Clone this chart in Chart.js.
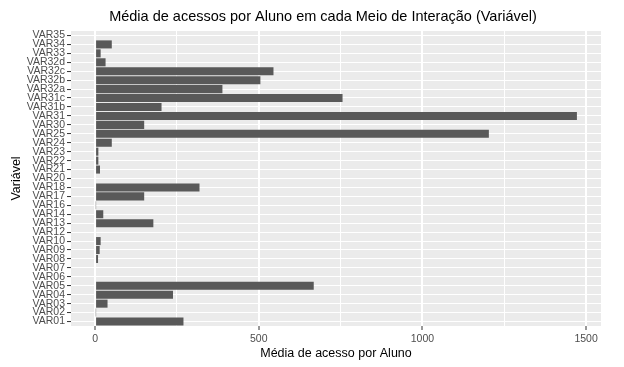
<!DOCTYPE html>
<html>
<head>
<meta charset="utf-8">
<script src="https://cdn.jsdelivr.net/npm/chart.js@4"></script>
<style>
html,body{margin:0;padding:0;background:#fff;}
#wrap{width:624px;height:367px;position:relative;}
</style>
</head>
<body>
<div id="wrap"><canvas id="c" width="624" height="367"></canvas></div>
<script>
// Categories, bottom to top
const categories = ["VAR01","VAR02","VAR03","VAR04","VAR05","VAR06","VAR07","VAR08","VAR09","VAR10",
  "VAR12","VAR13","VAR14","VAR16","VAR17","VAR18","VAR20","VAR21","VAR22","VAR23","VAR24","VAR25",
  "VAR30","VAR31","VAR31b","VAR31c","VAR32a","VAR32b","VAR32c","VAR32d","VAR33","VAR34","VAR35"];
// Mean accesses per student
const meanAccess = [270, 2, 38, 238, 668, 0, 0, 9, 14, 17,
  3, 178, 25, 2, 150, 319, 0, 15, 10, 10, 51, 1203,
  150, 1472, 203, 756, 389, 505, 545, 32, 17, 51, 0];
const xTickValues = [0, 250, 500, 750, 1000, 1250, 1500];
const xLabelValues = [0, 500, 1000, 1500];

const titleText = "Média de acessos por Aluno em cada Meio de Interação (Variável)";
const xTitle = "Média de acesso por Aluno";
const yTitle = "Variável";

const panelBg = {
  id: 'panelBg',
  beforeDraw(chart) {
    const a = chart.chartArea, ctx = chart.ctx;
    ctx.save();
    ctx.fillStyle = '#EBEBEB';
    ctx.fillRect(a.left, a.top, a.right - a.left, a.bottom - a.top);
    ctx.restore();
  }
};

new Chart(document.getElementById('c'), {
  type: 'bar',
  data: {
    labels: categories,
    datasets: [{
      data: meanAccess,
      backgroundColor: '#595959',
      borderWidth: 0,
      barPercentage: 0.9,
      categoryPercentage: 1.0
    }]
  },
  options: {
    indexAxis: 'y',
    responsive: false,
    animation: false,
    layout: { padding: { left: 22, right: 0, top: 0, bottom: 0 } },
    plugins: {
      legend: { display: false },
      tooltip: { enabled: false },
      title: {
        display: true,
        text: titleText,
        color: '#000000',
        font: { family: 'Liberation Sans, Arial, sans-serif', size: 14.5, weight: 'normal' },
        padding: { top: 8.5, bottom: 5.1 }
      }
    },
    scales: {
      x: {
        type: 'linear',
        min: -73.6,
        max: 1545.6,
        afterBuildTicks(scale) { scale.ticks = xTickValues.map(v => ({ value: v })); },
        afterFit(scale) { scale.height = 41; },
        border: { display: false },
        grid: {
          color: '#FFFFFF',
          lineWidth: (c) => (c.tick && xLabelValues.includes(c.tick.value)) ? 2 : 1,
          tickColor: (c) => (c.tick && xLabelValues.includes(c.tick.value)) ? '#333333' : 'rgba(0,0,0,0)',
          tickLength: 4,
          tickWidth: 1,
          drawTicks: true
        },
        ticks: {
          autoSkip: false,
          maxRotation: 0,
          padding: 3,
          color: '#4D4D4D',
          font: { family: 'Liberation Sans, Arial, sans-serif', size: 10.5 },
          callback: (v) => xLabelValues.includes(v) ? String(v) : ''
        },
        title: {
          display: true,
          text: xTitle,
          color: '#000000',
          font: { family: 'Liberation Sans, Arial, sans-serif', size: 12.5 },
          padding: { top: 0, bottom: 5.5 }
        }
      },
      y: {
        type: 'category',
        reverse: true,
        offset: true,
        afterFit(scale) { scale.width = 49; },
        border: { display: false },
        grid: {
          offset: false,
          color: '#FFFFFF',
          lineWidth: 1.1,
          tickColor: '#333333',
          tickLength: 4,
          tickWidth: 1
        },
        ticks: {
          autoSkip: false,
          padding: 2,
          color: '#4D4D4D',
          font: { family: 'Liberation Sans, Arial, sans-serif', size: 10.5 }
        },
        title: {
          display: true,
          text: yTitle,
          color: '#000000',
          font: { family: 'Liberation Sans, Arial, sans-serif', size: 12.5 },
          padding: { top: -12.5, bottom: 0 }
        }
      },
      yRightSpace: {
        type: 'category',
        position: 'right',
        afterFit(scale) { scale.width = 23; },
        border: { display: false },
        grid: { display: false, drawTicks: false },
        ticks: { display: false }
      }
    }
  },
  plugins: [panelBg]
});
</script>
</body>
</html>
